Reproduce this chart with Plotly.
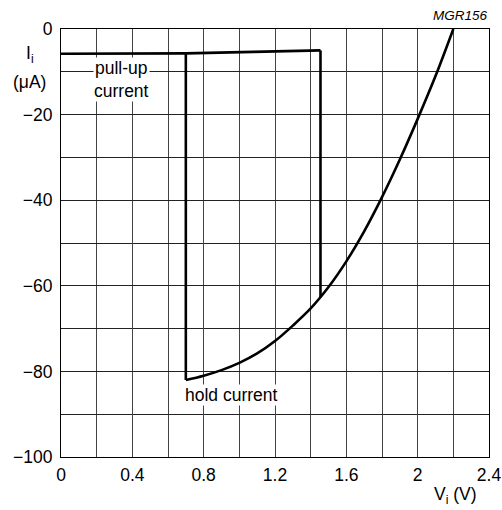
import plotly.graph_objects as go

# Pull-up current (upper branch)
pullup_v = [0.0, 0.7, 1.455]
pullup_i = [-5.8, -5.7, -5.0]

# Hold-current curve from (0.7, -82) to (2.2, 0)
hold_v = [0.7, 0.8, 0.9, 1.0, 1.1, 1.2, 1.3, 1.4, 1.5, 1.6, 1.7, 1.8, 1.9, 2.0, 2.1, 2.2]
hold_i = [-82.0, -81.0, -79.7, -78.0, -75.8, -72.9, -69.3, -65.3, -60.3, -54.3, -47.3, -39.3, -30.5, -21.0, -11.0, 0.0]

# Vertical transitions
left_drop_v = [0.7, 0.7]
left_drop_i = [-5.7, -82.0]
right_drop_v = [1.455, 1.455]
right_drop_i = [-5.0, -62.6]

x_ticks = [0, 0.4, 0.8, 1.2, 1.6, 2, 2.4]
x_tick_text = ["0", "0.4", "0.8", "1.2", "1.6", "2", "2.4"]
y_ticks = [0, -20, -40, -60, -80, -100]
y_tick_text = ["0", "\u221220", "\u221240", "\u221260", "\u221280", "\u2212100"]

FONT = "Liberation Sans, Arial, sans-serif"
FS = 17.5
line = dict(color="black", width=2.6)

fig = go.Figure()
fig.add_trace(go.Scatter(x=pullup_v, y=pullup_i, mode="lines", line=line))
fig.add_trace(go.Scatter(x=left_drop_v, y=left_drop_i, mode="lines", line=line))
fig.add_trace(go.Scatter(x=right_drop_v, y=right_drop_i, mode="lines", line=line))
fig.add_trace(go.Scatter(x=hold_v, y=hold_i, mode="lines",
                         line=dict(color="black", width=2.6, shape="spline", smoothing=1)))

fig.update_layout(
    width=502, height=510,
    margin=dict(l=61, r=13, t=29, b=53),
    paper_bgcolor="white", plot_bgcolor="white",
    showlegend=False,
    font=dict(family=FONT, size=FS, color="black"),
    xaxis=dict(range=[0, 2.4], tickvals=x_ticks, ticktext=x_tick_text, automargin=False,
               showgrid=True, gridcolor="#444", gridwidth=1,
               minor=dict(dtick=0.2, tick0=0, showgrid=True, gridcolor="#444", gridwidth=1),
               showline=True, linecolor="black", linewidth=1, mirror=True,
               ticks="", zeroline=False, ticklabelstandoff=2),
    yaxis=dict(range=[-100, 0], tickvals=y_ticks, ticktext=y_tick_text, automargin=False,
               showgrid=True, gridcolor="#222", gridwidth=1,
               minor=dict(dtick=10, tick0=0, showgrid=True, gridcolor="#222", gridwidth=1),
               showline=True, linecolor="black", linewidth=1, mirror=True,
               ticks="", zeroline=False, ticklabelstandoff=4),
)

# pixel -> paper helpers for text placed outside the plot area
PL, PT, PW, PH = 61, 29, 428, 428
def px(x):
    return (x - PL) / PW
def py(y):
    return 1 - (y - PT) / PH

fig.add_annotation(x=0.34, y=-11.9, xref="x", yref="y", text="pull-up<br>current",
                   showarrow=False, bgcolor="white", font=dict(size=FS), borderpad=0)
fig.add_annotation(x=0.69, y=-85.5, xref="x", yref="y", xanchor="left", text="hold current",
                   showarrow=False, bgcolor="white", font=dict(size=FS), borderpad=0)
fig.add_annotation(x=px(30), y=py(55), xref="paper", yref="paper", xanchor="center", yanchor="middle",
                   text="I<sub>i</sub>", showarrow=False, font=dict(size=FS))
fig.add_annotation(x=px(29), y=py(82), xref="paper", yref="paper", xanchor="center", yanchor="middle",
                   text="(\u03bcA)", showarrow=False, font=dict(size=FS))
fig.add_annotation(x=px(455), y=py(495), xref="paper", yref="paper", xanchor="center", yanchor="middle",
                   text="V<sub>i</sub> (V)", showarrow=False, font=dict(size=FS))
fig.add_annotation(x=px(490), y=py(25), xref="paper", yref="paper", xanchor="right", yanchor="bottom",
                   text="<i>MGR156</i>", showarrow=False, font=dict(size=13.5))

fig.write_html("out.html", config={"displayModeBar": False},
               post_script="document.body.style.margin='0px';")
